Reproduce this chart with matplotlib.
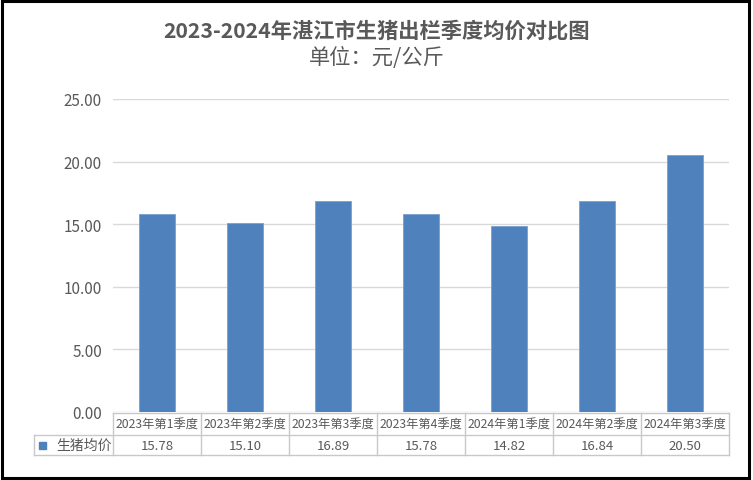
import matplotlib
matplotlib.use("Agg")
import matplotlib.pyplot as plt
from matplotlib.transforms import blended_transform_factory
from matplotlib.patches import Rectangle

plt.rcParams['font.family'] = ['Noto Sans CJK SC', 'DejaVu Sans']

categories = ['2023年第1季度', '2023年第2季度', '2023年第3季度', '2023年第4季度',
              '2024年第1季度', '2024年第2季度', '2024年第3季度']
prices = [15.78, 15.10, 16.89, 15.78, 14.82, 16.84, 20.50]
series_name = '生猪均价'
yticks = [0, 5, 10, 15, 20, 25]

W, H = 753, 481
bar_color = '#4F81BD'
text_gray = '#595959'
grid_gray = '#d9d9d9'
table_gray = '#c8c8c8'

def fx(px):
    return px / W

def fy(py):
    return 1 - py / H

fig = plt.figure(figsize=(W / 100, H / 100), dpi=100)
ax = fig.add_axes([fx(113), fy(413), fx(729) - fx(113), fy(100) - fy(413)])

x = range(len(categories))
ax.bar(x, prices, width=0.41, color=bar_color, edgecolor='#7a9fd0', linewidth=0.6, zorder=3)
ax.set_xlim(-0.5, len(categories) - 0.5)
ax.set_ylim(0, 25)
ax.set_yticks(yticks)
ax.set_yticklabels([f'{v:.2f}' for v in yticks])
ax.tick_params(axis='y', length=0, pad=8, labelsize=11, labelcolor=text_gray)
ax.tick_params(axis='x', length=0, labelbottom=False)
ax.grid(axis='y', color=grid_gray, linewidth=1, zorder=0)
for s in ax.spines.values():
    s.set_visible(False)

# title
fig.text(0.5, fy(31), '2023-2024年湛江市生猪出栏季度均价对比图', ha='center', va='center',
         fontsize=15.3, fontweight='bold', color=text_gray)
fig.text(0.5, fy(58), '单位：元/公斤', ha='center', va='center',
         fontsize=15.3, color=text_gray)

# data table under the axis
tr = blended_transform_factory(ax.transData, fig.transFigure)
y_top, y_mid, y_bot = fy(414), fy(436), fy(456)
n = len(categories)
lkw = dict(color=table_gray, linewidth=1, clip_on=False)
ax.plot([-0.5, n - 0.5], [y_top, y_top], transform=tr, **lkw)
fig.add_artist(plt.Line2D([fx(34), fx(729)], [y_mid, y_mid], **lkw))
fig.add_artist(plt.Line2D([fx(34), fx(729)], [y_bot, y_bot], **lkw))
fig.add_artist(plt.Line2D([fx(34), fx(34)], [y_mid, y_bot], **lkw))
for i in range(n + 1):
    ax.plot([i - 0.5, i - 0.5], [y_top, y_bot], transform=tr, **lkw)
for i, (c, v) in enumerate(zip(categories, prices)):
    ax.text(i, (y_top + y_mid) / 2, c, transform=tr, ha='center', va='center',
            fontsize=8.8, color=text_gray)
    ax.text(i, (y_mid + y_bot) / 2, f'{v:.2f}', transform=tr, ha='center', va='center',
            fontsize=9.5, color=text_gray)
fig.add_artist(Rectangle((fx(39), (y_mid + y_bot) / 2 - 3.5 / H), 7 / W, 7 / H,
                         transform=fig.transFigure, color=bar_color))
fig.text(fx(84), (y_mid + y_bot) / 2, series_name, ha='center', va='center',
         fontsize=10, color=text_gray)

# outer frame
fig.add_artist(Rectangle((fx(1.5), fy(479)), fx(749) - fx(1.5), fy(1.5) - fy(479),
                         transform=fig.transFigure, fill=False, edgecolor='black', linewidth=2.2))

fig.savefig('out.png', dpi=100)
